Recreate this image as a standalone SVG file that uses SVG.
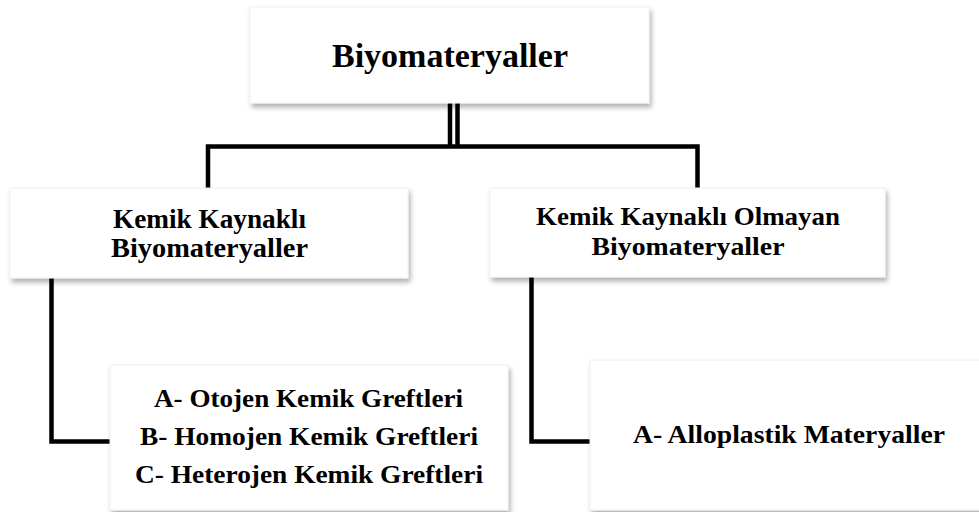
<svg xmlns="http://www.w3.org/2000/svg" width="979" height="512" viewBox="0 0 979 512">
<defs>
<filter id="sh" x="-5%" y="-10%" width="115%" height="130%">
<feDropShadow dx="2" dy="4" stdDeviation="2.5" flood-color="#000" flood-opacity="0.3"/>
</filter>
<style>
.box{fill:#fff;stroke:#f0f0f0;stroke-width:1;filter:url(#sh)}
.t{font-family:"Liberation Serif","Times New Roman",serif;font-weight:bold;fill:#000;text-anchor:middle}
.c{fill:none;stroke:#000;stroke-width:4.5;stroke-linejoin:miter}
</style>
</defs>
<rect width="979" height="512" fill="#fff"/>
<g id="connectors">
<line class="c" x1="450" y1="103" x2="450" y2="146"/>
<line class="c" x1="457.5" y1="103" x2="457.5" y2="146"/>
<polyline class="c" points="208,188 208,146.5 697.5,146.5 697.5,188"/>
<polyline class="c" points="51.5,278 51.5,441.5 110,441.5"/>
<polyline class="c" points="531.5,277 531.5,441.5 590,441.5"/>
</g>
<g id="root">
<rect class="box" x="250" y="7" width="399" height="96"/>
<text class="t" x="450" y="67" font-size="34" textLength="236" lengthAdjust="spacingAndGlyphs">Biyomateryaller</text>
</g>
<g id="kemik">
<rect class="box" x="10" y="188" width="398" height="90"/>
<text class="t" x="209.5" y="228" font-size="27" textLength="193" lengthAdjust="spacingAndGlyphs">Kemik Kaynaklı</text>
<text class="t" x="209.5" y="257" font-size="27" textLength="197" lengthAdjust="spacingAndGlyphs">Biyomateryaller</text>
</g>
<g id="olmayan">
<rect class="box" x="490" y="188" width="395" height="89"/>
<text class="t" x="688" y="225" font-size="26" textLength="304" lengthAdjust="spacingAndGlyphs">Kemik Kaynaklı Olmayan</text>
<text class="t" x="688" y="255" font-size="26" textLength="193" lengthAdjust="spacingAndGlyphs">Biyomateryaller</text>
</g>
<g id="greftler">
<rect class="box" x="110" y="365" width="398" height="145"/>
<text class="t" x="308.5" y="407" font-size="25" textLength="309" lengthAdjust="spacingAndGlyphs">A- Otojen Kemik Greftleri</text>
<text class="t" x="309" y="445" font-size="25" textLength="338" lengthAdjust="spacingAndGlyphs">B- Homojen Kemik Greftleri</text>
<text class="t" x="309" y="483" font-size="25" textLength="348" lengthAdjust="spacingAndGlyphs">C- Heterojen Kemik Greftleri</text>
</g>
<g id="alloplastik">
<rect class="box" x="590" y="360" width="395" height="150"/>
<text class="t" x="789" y="443" font-size="25" textLength="312" lengthAdjust="spacingAndGlyphs">A- Alloplastik Materyaller</text>
</g>
</svg>
